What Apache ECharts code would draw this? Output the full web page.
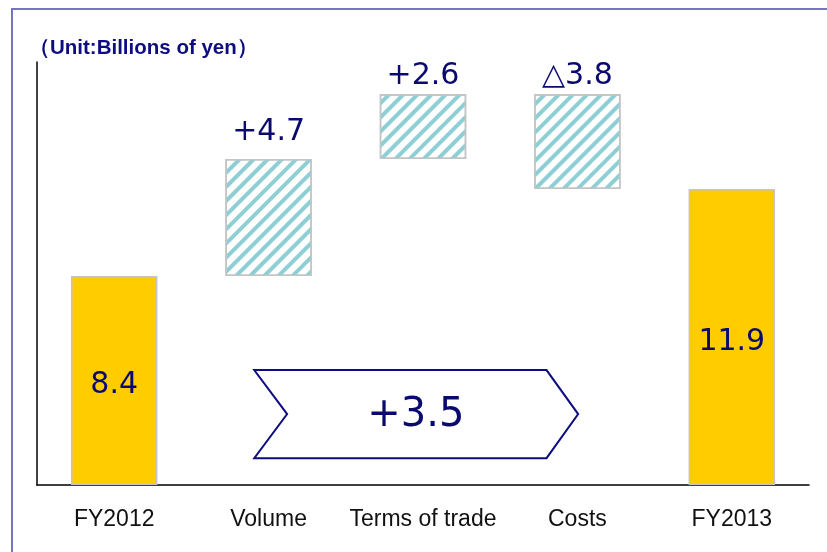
<!DOCTYPE html>
<html>
<head>
<meta charset="utf-8">
<script src="https://cdn.jsdelivr.net/npm/echarts@6/dist/echarts.min.js"></script>
<style>
  html, body { margin: 0; padding: 0; background: #fff; }
  #frame { position: absolute; left: 11px; top: 8px; right: -2px; bottom: -2px; border: 2px solid #7577bd; border-right: none; border-bottom: none; }
  #main { position: absolute; left: 0; top: 0; width: 827px; height: 552px; }
</style>
</head>
<body>
<div id="frame"></div>
<div id="main"></div>
<script>
// 項目
var categories = ['FY2012', 'Volume', 'Terms of trade', 'Costs', 'FY2013'];
// 透明な土台
var baseValues = [0, 8.4, 13.1, 11.9, 0];
var totalValues = [8.4, '-', '-', '-', 11.9];
var changeValues = ['-', 4.7, 2.6, 3.8, '-'];
var valueLabels = ['8.4', '+4.7', '+2.6', '△3.8', '11.9'];
var totalChange = '+3.5';

window.onload = () => {
    var chartDom = document.getElementById('main');
    var myChart = echarts.init(chartDom);
    var navy = '#0a0a6e';
    // 上段の2本はラベルが棒に近い
    var changeData = changeValues.map((v, i) => (i === 2 || i === 3) ? { value: v, label: { distance: 3 } } : v);
    var option = {
        animation: false,
        title: {
            text: '（Unit:Billions of yen）',
            left: 24,
            top: 33,
            textStyle: {
                color: '#0d0d80',
                fontSize: 20.5,
                fontWeight: 'bold',
                fontFamily: 'Liberation Sans, Arial, sans-serif'
            }
        },
        grid: {
            left: 37,
            right: 18,
            top: 62,
            bottom: 67
        },
        xAxis: {
            type: 'category',
            data: categories,
            axisTick: { show: false },
            axisLine: { lineStyle: { color: '#000', width: 1.5 } },
            axisLabel: {
                interval: 0,
                color: '#111',
                fontSize: 23,
                margin: 23,
                fontFamily: 'Liberation Sans, Arial, sans-serif'
            }
        },
        yAxis: {
            type: 'value',
            min: 0,
            max: 17,
            splitLine: { show: false },
            axisTick: { show: false },
            axisLabel: { show: false },
            axisLine: { show: true, lineStyle: { color: '#000', width: 1.5 } }
        },
        series: [{
                name: 'base',
                type: 'bar',
                stack: 'w',
                silent: true,
                barWidth: '56%',
                itemStyle: { color: 'transparent' },
                data: baseValues
            },
            {
                name: 'total',
                type: 'bar',
                stack: 'w',
                itemStyle: {
                    color: '#ffcc00',
                    borderColor: '#c4c4c4',
                    borderWidth: 1.5
                },
                label: {
                    show: true,
                    position: 'inside',
                    offset: [0, 5],
                    color: navy,
                    fontSize: 30,
                    fontFamily: 'DejaVu Sans, Noto Sans, sans-serif',
                    formatter: p => valueLabels[p.dataIndex]
                },
                data: totalValues
            },
            {
                name: 'change',
                type: 'bar',
                stack: 'w',
                itemStyle: {
                    color: '#fff',
                    borderColor: '#c4c4c4',
                    borderWidth: 1.5,
                    decal: {
                        symbol: 'rect',
                        symbolSize: 1,
                        color: '#8dcfd4',
                        dashArrayX: [1, 0],
                        dashArrayY: [4, 6],
                        rotation: -Math.PI / 4
                    }
                },
                label: {
                    show: true,
                    position: 'top',
                    distance: 12,
                    color: navy,
                    fontSize: 30,
                    fontFamily: 'DejaVu Sans, Noto Sans, sans-serif',
                    formatter: p => valueLabels[p.dataIndex]
                },
                data: changeData
            }
        ]
    };
    option && myChart.setOption(option);

    // 矢印（+3.5）をデータ座標から配置
    var p0 = myChart.convertToPixel({ xAxisIndex: 0 }, categories[0]);
    var p1 = myChart.convertToPixel({ xAxisIndex: 0 }, categories[1]);
    var step = p1 - p0;
    var xAt = i => p0 + step * i;
    var yTop = myChart.convertToPixel({ yAxisIndex: 0 }, 4.62);
    var yBot = myChart.convertToPixel({ yAxisIndex: 0 }, 1.08);
    var yMid = (yTop + yBot) / 2;
    var xL = xAt(0.907), xN = xAt(1.12), xR = xAt(2.80), xP = xAt(3.005);
    myChart.setOption({
        graphic: [{
                type: 'polygon',
                shape: {
                    points: [[xL, yTop], [xR, yTop], [xP, yMid], [xR, yBot], [xL, yBot], [xN, yMid]]
                },
                style: { fill: '#fff', stroke: '#0d0d80', lineWidth: 2 }
            },
            {
                type: 'text',
                x: (xN + xR) / 2 - 1,
                y: yMid + 2,
                style: {
                    text: totalChange,
                    fill: navy,
                    fontSize: 40,
                    fontFamily: 'DejaVu Sans, Noto Sans, sans-serif',
                    align: 'center',
                    verticalAlign: 'middle'
                }
            }
        ]
    });
}
</script>
</body>
</html>
